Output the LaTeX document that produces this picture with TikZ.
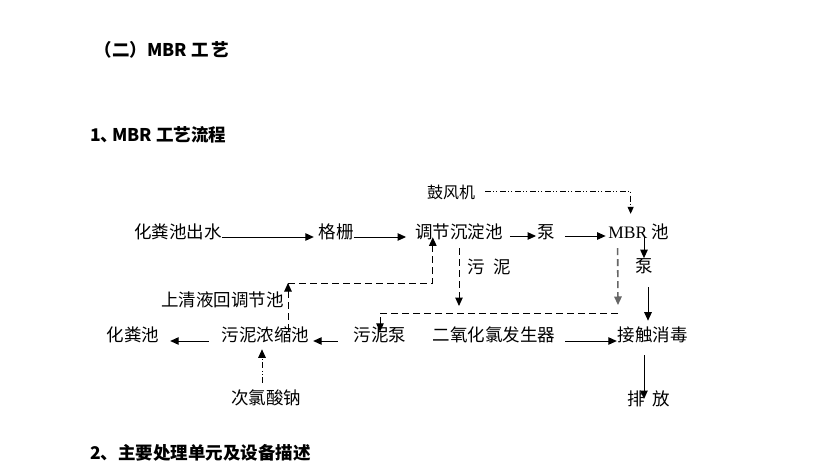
\documentclass[tikz,border=0pt]{standalone}
\usepackage{fontspec}
\setmainfont{Liberation Serif}
\newfontfamily\cjk{Noto Sans CJK SC}
\usetikzlibrary{arrows.meta}
\tikzset{
  lbl/.style={inner sep=0pt, font=\cjk\fontsize{17.5}{20}\selectfont},
  small/.style={inner sep=0pt, font=\cjk\fontsize{16}{18}\selectfont},
  head/.style={inner sep=0pt, anchor=west, font=\cjk\bfseries\fontsize{17.5}{20}\selectfont},
  arr/.style={line width=1pt, -{Triangle[length=8.5pt,width=7.5pt]}},
  sarr/.style={line width=1pt, -{Triangle[length=7pt,width=6pt]}},
  dashline/.style={dash pattern=on 7pt off 4pt},
  grayline/.style={draw=black!60, line width=1.6pt, dash pattern=on 7pt off 4pt},
  ddline/.style={dash pattern=on 6pt off 2pt on 1pt off 2pt on 1pt off 3pt},
}
\begin{document}
\begin{tikzpicture}[x=1pt,y=-1pt]
\useasboundingbox[fill=white] (0,0) rectangle (815,471);
% headings
\node[head] (h1) at (94.5,50) {（二）MBR 工\hspace{3pt}艺};
\node[head] (h2) at (90,135) {1、\kern-6pt MBR 工艺流程};
\node[head] (h3) at (90,453) {2、主要处理单元及设备描述};
% nodes
\node[small] (n0) at (451,192) {鼓风机};
\node[lbl] (n1) at (178,232) {化粪池出水};
\node[lbl] (n2) at (336,232) {格栅};
\node[lbl] (n3) at (459,232) {调节沉淀池};
\node[lbl] (n4) at (546,232) {泵};
\node[lbl] (n5) at (638.5,232) {{\rmfamily MBR} 池};
\node[lbl] (n6) at (644,266) {泵};
\node[lbl] (n9) at (489,267) {污\hspace{8pt}泥};
\node[lbl] (n10) at (222.5,300) {上清液回调节池};
\node[lbl] (n11) at (133,335) {化粪池};
\node[lbl] (n12) at (265.5,335) {污泥浓缩池};
\node[lbl] (n13) at (380,335) {污泥泵};
\node[lbl] (n14) at (494,335) {二氧化氯发生器};
\node[lbl] (n7) at (652.5,335) {接触消毒};
\node[lbl] (n8) at (648.5,399) {排\hspace{8pt}放};
\node[lbl] (n15) at (266,398) {次氯酸钠};
% bend coordinates
\coordinate (s1) at (618,313);
\coordinate (r1) at (288,283);
\coordinate (p1) at (648,287);
% row 1
\draw[arr] ([yshift=-5pt]n1.east) -- ([yshift=-5pt,xshift=-4.5pt]n2.west);
\draw[arr] ([yshift=-5pt]n2.east) -- ([yshift=-5pt,xshift=-9pt]n3.west);
\draw[arr] ([yshift=-4pt,xshift=7pt]n3.east) -- ([yshift=-4pt,xshift=-1pt]n4.west);
\draw[arr] ([yshift=-4pt,xshift=10pt]n4.east) -- ([yshift=-4pt,xshift=-2.5pt]n5.west);
% blower
\draw[sarr, ddline] ([xshift=10pt,yshift=1pt]n0.east) -| ([xshift=22.5pt,yshift=10pt]n5.north west);
% MBR -> pump -> disinfection -> discharge
\draw[arr] ([yshift=-5pt]n5.center -| n6.north) -- (n6.north);
\draw[arr, shorten >=6pt] (p1) -- (p1 |- n7.north);
\draw[arr] ([xshift=-8.5pt,yshift=-12pt]n7.south) -- ([xshift=-4.5pt]n8.center);
% sludge lines
\draw[arr, grayline] ([xshift=9.5pt,yshift=-8pt]n5.south west) -- ([yshift=8pt]s1);
\draw[arr, dashline] ([yshift=-8pt]n3.south) -- ([yshift=7pt]n3.south |- s1);
\draw[arr, dashline] (s1) -| ([yshift=-5pt]n13.north);
% supernatant return
\draw[arr, dashline] ([xshift=22.5pt,yshift=-4pt]n12.north) -- (r1);
\draw[arr, dashline] (r1) -| ([xshift=17.75pt,yshift=3pt]n3.south west);
% row 3
\draw[arr] ([xshift=-12.75pt,yshift=-6pt]n12.west) -- ([xshift=10.75pt,yshift=-6pt]n11.east);
\draw[arr] ([xshift=-15.75pt,yshift=-6pt]n13.west) -- ([xshift=3.75pt,yshift=-6pt]n12.east);
\draw[arr] ([xshift=9.75pt,yshift=-6pt]n14.east) -- ([xshift=-0.5pt,yshift=-6pt]n7.west);
% hypochlorite
\draw[arr, ddline] ([xshift=-4pt,yshift=7pt]n15.north) -- ([xshift=-3.5pt,yshift=-6pt]n12.south);
\end{tikzpicture}
\end{document}
